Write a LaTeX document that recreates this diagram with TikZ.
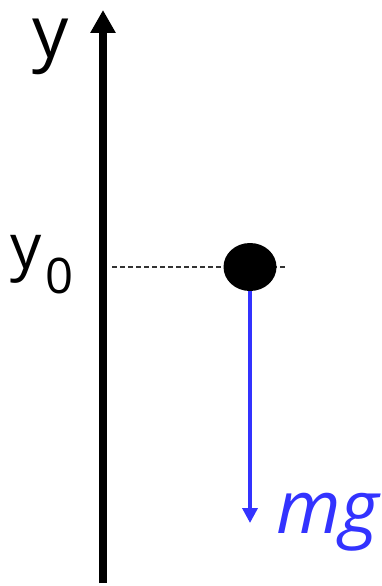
\documentclass[tikz,border=0pt]{standalone}
\usepackage{fontspec}
\setmainfont{Open Sans}
\usetikzlibrary{arrows.meta, positioning, shapes.geometric}
\definecolor{forceblue}{HTML}{3333FF}
\tikzset{
  axisline/.style={line width=8pt, -{Triangle[length=23pt, width=24pt]}},
  guideline/.style={black!80, line width=1.3pt, dash pattern=on 5pt off 3pt},
  massdot/.style={ellipse, fill=black, minimum width=53pt, minimum height=48pt, inner sep=0pt},
  forcearrow/.style={forceblue, line width=3.5pt, -{Triangle[length=15pt, width=15pt]}},
  axislabel/.style={inner sep=0pt, anchor=base},
}
\begin{document}
\begin{tikzpicture}[x=1pt, y=-1pt]
  \useasboundingbox (0,0) rectangle (382,586);
  % Achse
  \coordinate (ybot) at (103,583);
  \coordinate (ytop) at (103,10);
  \draw[axisline] (ybot) -- (ytop);
  \node[axislabel] (ylab) at (51,58) {\fontsize{72}{80}\selectfont y};
  % Startlage
  \coordinate (dstart) at (112,267);
  \coordinate (dend) at (286,267);
  \draw[guideline] (dstart) -- (dend);
  \node[axislabel, anchor=base west] (y0lab) at (10,268)
    {\fontsize{62}{70}\selectfont y\kern4pt\raisebox{-25pt}{\fontsize{49}{55}\selectfont 0}};
  \node[massdot] (mass) at (250,267) {};
  % Gewichtskraft
  \coordinate (ftip) at (250,523);
  \draw[forcearrow] (mass.south) -- (ftip);
  \node[axislabel, anchor=base west, text=forceblue] (mg) at (276,533)
    {\fontsize{74}{80}\selectfont\itshape mg};
\end{tikzpicture}
\end{document}
